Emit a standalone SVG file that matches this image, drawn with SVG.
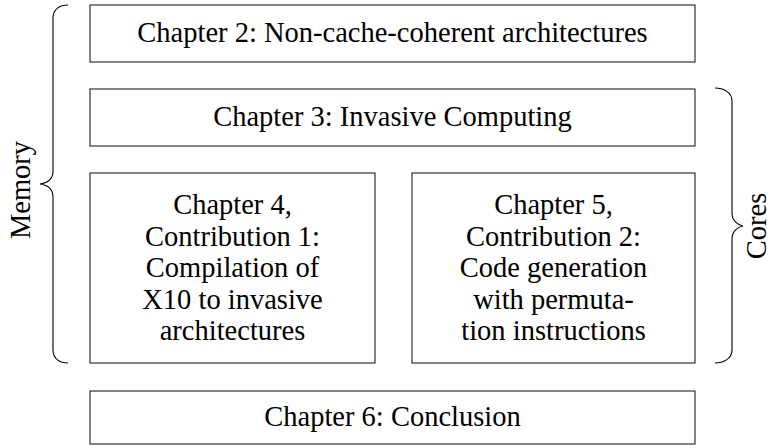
<svg xmlns="http://www.w3.org/2000/svg" width="771" height="448" viewBox="0 0 771 448">
<style>
.box{fill:#fff;stroke:#222;stroke-width:1.1}
.brace{fill:none;stroke:#000;stroke-width:1.1}
</style>
<rect width="771" height="448" fill="#fff"/>
<g id="ch2">
<rect class="box" x="90" y="5" width="605" height="57"/>
<text x="392.5" y="42" font-family="Liberation Serif" font-size="28.5" text-anchor="middle">Chapter 2: Non-cache-coherent architectures</text>
</g>
<g id="ch3">
<rect class="box" x="90" y="89" width="605" height="57"/>
<text x="392.5" y="126" font-family="Liberation Serif" font-size="28.5" text-anchor="middle">Chapter 3: Invasive Computing</text>
</g>
<g id="ch4">
<rect class="box" x="90" y="173" width="285" height="190"/>
<text x="232.5" y="214" font-family="Liberation Serif" font-size="28.5" text-anchor="middle">Chapter 4,</text>
<text x="232.5" y="246" font-family="Liberation Serif" font-size="28.5" text-anchor="middle">Contribution 1:</text>
<text x="232.5" y="277" font-family="Liberation Serif" font-size="28.5" text-anchor="middle">Compilation of</text>
<text x="232.5" y="309" font-family="Liberation Serif" font-size="28.5" text-anchor="middle">X10 to invasive</text>
<text x="232.5" y="340" font-family="Liberation Serif" font-size="28.5" text-anchor="middle">architectures</text>
</g>
<g id="ch5">
<rect class="box" x="412" y="173" width="283" height="190"/>
<text x="553.5" y="214" font-family="Liberation Serif" font-size="28.5" text-anchor="middle">Chapter 5,</text>
<text x="553.5" y="246" font-family="Liberation Serif" font-size="28.5" text-anchor="middle">Contribution 2:</text>
<text x="553.5" y="277" font-family="Liberation Serif" font-size="28.5" text-anchor="middle">Code generation</text>
<text x="553.5" y="309" font-family="Liberation Serif" font-size="28.5" text-anchor="middle">with permuta-</text>
<text x="553.5" y="340" font-family="Liberation Serif" font-size="28.5" text-anchor="middle">tion instructions</text>
</g>
<g id="ch6">
<rect class="box" x="90" y="391" width="605" height="53"/>
<text x="392.5" y="426" font-family="Liberation Serif" font-size="28.5" text-anchor="middle">Chapter 6: Conclusion</text>
</g>
<g id="braces">
<path class="brace" d="M68,5 C60,5 53,9 53,18 L53,171 C53,179 47,183 40,184 C47,185 53,189 53,197 L53,350 C53,359 60,363 68,363"/>
<path class="brace" d="M715,88 C723,88 732,92 732,101 L732,213 C732,221 738,225 743,226 C738,227 732,231 732,239 L732,350 C732,359 723,363 715,363"/>
</g>
<g id="memory">
<text font-family="Liberation Serif" font-size="28.5" text-anchor="middle" transform="translate(30,190) rotate(-90)">Memory</text>
</g>
<g id="cores">
<text font-family="Liberation Serif" font-size="28.5" text-anchor="middle" transform="translate(766,226) rotate(-90)">Cores</text>
</g>
</svg>
